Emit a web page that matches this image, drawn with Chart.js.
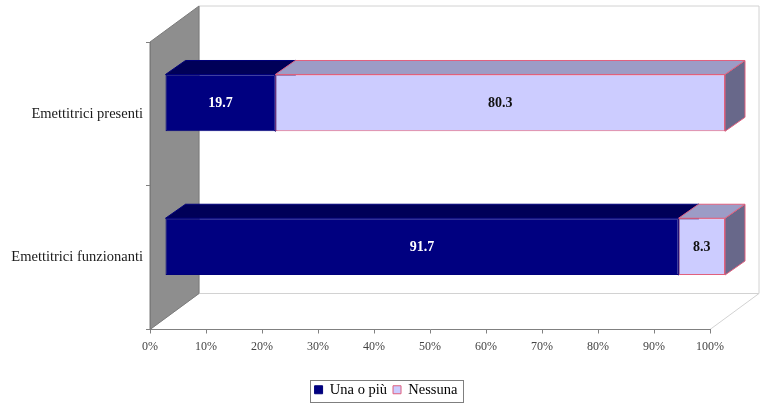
<!DOCTYPE html>
<html>
<head>
<meta charset="utf-8">
<script src="https://cdn.jsdelivr.net/npm/chart.js@4"></script>
<style>
  html, body { margin: 0; padding: 0; background: #fff; }
  #wrap { width: 765px; height: 407px; }
</style>
</head>
<body>
<div id="wrap"><canvas id="grafico"></canvas></div>
<script>
// dati
var categorie = ['Emettitrici presenti', 'Emettitrici funzionanti'];
var unaOPiu = [19.7, 91.7];
var nessuna = [80.3, 8.3];
var tickPercento = [0, 10, 20, 30, 40, 50, 60, 70, 80, 90, 100];

// profondita' della scatola 3D e delle barre
var PROF = { dx: 49, dy: -36 };
var SPOST = { dx: 15, dy: -11 };
var BARRA = { dx: 20, dy: -14 };

var facce = [
    { top: '#000058', side: '#000048', line: '#00007a' },
    { top: '#9c9cc6', side: '#68688a', line: '#e0607e' }
];

function poly(ctx, pts, fill, stroke) {
    ctx.beginPath();
    ctx.moveTo(pts[0][0], pts[0][1]);
    for (var i = 1; i < pts.length; i++) ctx.lineTo(pts[i][0], pts[i][1]);
    ctx.closePath();
    if (fill) { ctx.fillStyle = fill; ctx.fill(); }
    if (stroke) { ctx.strokeStyle = stroke; ctx.lineWidth = 1; ctx.stroke(); }
}

var scatola3d = {
    id: 'scatola3d',
    afterLayout: function (chart) {
        // la legenda sta centrata un po' piu' a destra
        chart.legend.left += 31;
        chart.legend.right += 31;
    },
    beforeDraw: function (chart) {
        var a = chart.chartArea, ctx = chart.ctx;
        var L = a.left, R = a.right, T = a.top, B = a.bottom;
        ctx.save();
        // parete di fondo
        poly(ctx, [[L + PROF.dx, T + PROF.dy], [R + PROF.dx, T + PROF.dy],
                   [R + PROF.dx, B + PROF.dy], [L + PROF.dx, B + PROF.dy]], '#ffffff', '#d2d2d2');
        // pavimento
        poly(ctx, [[L, B], [L + PROF.dx, B + PROF.dy], [R + PROF.dx, B + PROF.dy], [R, B]], '#ffffff', '#d2d2d2');
        // parete laterale
        poly(ctx, [[L, T], [L + PROF.dx, T + PROF.dy], [L + PROF.dx, B + PROF.dy], [L, B]], '#8e8e8e', '#7a7a7a');
        ctx.restore();
    },
    beforeDatasetsDraw: function (chart) {
        var ctx = chart.ctx;
        ctx.save();
        ctx.translate(SPOST.dx, SPOST.dy);
        chart.data.datasets.forEach(function (ds, di) {
            var meta = chart.getDatasetMeta(di);
            meta.data.forEach(function (el) {
                var p = el.getProps(['x', 'y', 'base', 'height'], true);
                var l = Math.min(p.x, p.base), r = Math.max(p.x, p.base);
                var t = p.y - p.height / 2, b = p.y + p.height / 2;
                poly(ctx, [[r, t], [r + BARRA.dx, t + BARRA.dy], [r + BARRA.dx, b + BARRA.dy], [r, b]],
                     facce[di].side, facce[di].line);
                poly(ctx, [[l, t], [l + BARRA.dx, t + BARRA.dy], [r + BARRA.dx, t + BARRA.dy], [r, t]],
                     facce[di].top, facce[di].line);
            });
        });
    },
    afterDatasetsDraw: function (chart) {
        var ctx = chart.ctx;
        ctx.restore();
        // etichette dei valori
        ctx.save();
        ctx.font = 'bold 14px "Liberation Serif"';
        ctx.textAlign = 'center';
        ctx.textBaseline = 'middle';
        chart.data.datasets.forEach(function (ds, di) {
            chart.getDatasetMeta(di).data.forEach(function (el, i) {
                var p = el.getProps(['x', 'y', 'base'], true);
                ctx.fillStyle = di === 0 ? '#ffffff' : '#111111';
                ctx.fillText(ds.data[i].toFixed(1), (p.x + p.base) / 2 + SPOST.dx, p.y + SPOST.dy + 1);
            });
        });
        ctx.restore();
    },
    afterDraw: function (chart) {
        // cornice della legenda
        var hb = chart.legend.legendHitBoxes;
        if (!hb || !hb.length) return;
        var l = Infinity, r = -Infinity, t = Infinity, b = -Infinity;
        hb.forEach(function (h) {
            l = Math.min(l, h.left); r = Math.max(r, h.left + h.width);
            t = Math.min(t, h.top); b = Math.max(b, h.top + h.height);
        });
        var ctx = chart.ctx;
        ctx.save();
        ctx.strokeStyle = '#7f7f7f';
        ctx.lineWidth = 1;
        ctx.strokeRect(Math.round(l - 5) + 0.5, Math.round(t - 3) + 0.5, Math.round(r - l + 10), Math.round(b - t + 7));
        ctx.restore();
    }
};

Chart.defaults.font.family = '"Liberation Serif", "Times New Roman", serif';
Chart.defaults.color = '#222';

new Chart(document.getElementById('grafico'), {
    type: 'bar',
    data: {
        labels: categorie,
        datasets: [
            { label: 'Una o più', data: unaOPiu, backgroundColor: '#000080', borderColor: '#00007a',
              borderWidth: 1, borderSkipped: false, clip: false },
            { label: 'Nessuna', data: nessuna, backgroundColor: '#ccccff', borderColor: '#e0607e',
              borderWidth: 1, borderSkipped: false, clip: false }
        ]
    },
    options: {
        indexAxis: 'y',
        responsive: true,
        maintainAspectRatio: false,
        animation: false,
        layout: { padding: { top: 42, right: 55, left: 0, bottom: 0 } },
        categoryPercentage: 1,
        barPercentage: 0.395,
        scales: {
            x: {
                stacked: true,
                min: 0,
                max: 100,
                afterBuildTicks: function (s) {
                    s.ticks = tickPercento.map(function (v) { return { value: v }; });
                },
                afterFit: function (s) { s.height = 47; },
                ticks: {
                    padding: 6,
                    color: '#444',
                    font: { size: 12 },
                    callback: function (v) { return v + '%'; }
                },
                grid: { drawOnChartArea: false, tickLength: 4, color: '#808080' },
                border: { color: '#808080' }
            },
            y: {
                stacked: true,
                afterFit: function (s) { s.width = 150; },
                ticks: { padding: 3, color: '#1a1a1a', font: { size: 14.5 } },
                grid: { drawOnChartArea: false, tickLength: 4, color: '#808080' },
                border: { color: '#7a7a7a' }
            }
        },
        plugins: {
            legend: {
                position: 'bottom',
                labels: {
                    boxWidth: 8,
                    boxHeight: 8,
                    padding: 6,
                    color: '#000',
                    font: { size: 14.5 }
                }
            },
            tooltip: { enabled: false }
        }
    },
    plugins: [scatola3d]
});
</script>
</body>
</html>
